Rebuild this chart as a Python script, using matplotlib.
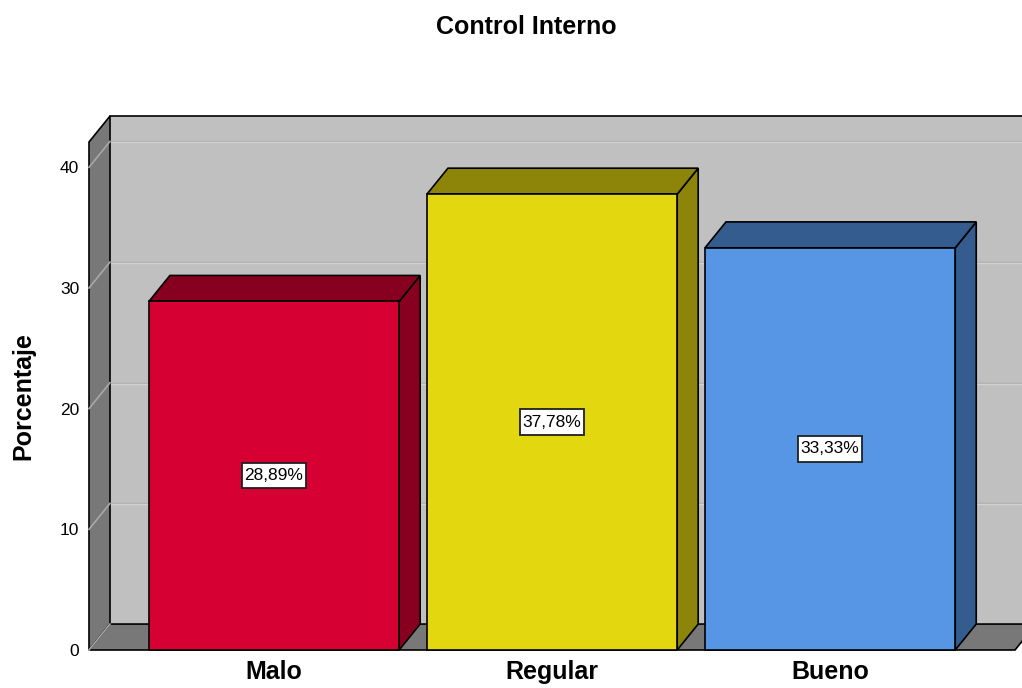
import matplotlib
matplotlib.use("Agg")
import matplotlib.pyplot as plt
from matplotlib.patches import Polygon, Rectangle
from matplotlib.path import Path

plt.rcParams['font.family'] = ['Liberation Sans', 'DejaVu Sans']

# Data
categories = ["Malo", "Regular", "Bueno"]
percentages = [28.89, 37.78, 33.33]
y_ticks = [0, 10, 20, 30, 40]

front_colors = ["#D60032", "#E3D70F", "#5696E5"]
shade_colors = ["#880020", "#8C850A", "#345C8E"]

WALL_BACK = "#C0C0C0"
WALL_SIDE = "#787878"
GRID_DARK = "#ACACAC"
GRID_LIGHT = "#D2D2D2"
GRID_SIDE = "#A8A8A8"


def label_box(x0, y0, width, height, mutation_size):
    """Rectangular box with more vertical than horizontal padding."""
    px = 0.16 * mutation_size
    py = 0.30 * mutation_size
    x0, y0 = x0 - px, y0 - py
    x1, y1 = x0 + width + 2 * px, y0 + height + 2 * py
    return Path([(x0, y0), (x1, y0), (x1, y1), (x0, y1), (x0, y0)], closed=True)


fig = plt.figure(figsize=(10.22, 6.88), dpi=100)
ax = fig.add_axes([89 / 1022, 38 / 688, 926 / 1022, 508 / 688])

xl, xr = -0.6655, 2.665
ytop = 42.1
ax.set_xlim(xl, xr)
ax.set_ylim(0, ytop)

# depth of the pseudo-3D box in data units
dx = 21 / 278.0
dy = 2.15
bar_w = 0.9
px_y = 1 / 12.07  # one pixel in y data units

# back wall
ax.add_patch(Polygon([(xl + dx, dy), (xr + dx, dy), (xr + dx, ytop + dy), (xl + dx, ytop + dy)],
                     closed=True, facecolor=WALL_BACK, edgecolor="none", clip_on=False, zorder=1))
ax.plot([xl + dx, xr + dx + 0.2], [ytop + dy, ytop + dy], color="black", lw=1.2, clip_on=False, zorder=2)

# left wall
ax.add_patch(Polygon([(xl, 0), (xl + dx, dy), (xl + dx, ytop + dy), (xl, ytop)],
                     closed=True, facecolor=WALL_SIDE, edgecolor="black", lw=1.2, clip_on=False, zorder=2))
# floor
ax.add_patch(Polygon([(xl, 0), (xr, 0), (xr + dx, dy), (xl + dx, dy)],
                     closed=True, facecolor=WALL_SIDE, edgecolor="black", lw=1.2, clip_on=False, zorder=2))

# gridlines on the back wall and left wall
for t in y_ticks:
    if t > 0:
        ax.plot([xl + dx, xr + dx + 0.2], [t + dy, t + dy], color=GRID_DARK, lw=1.0,
                clip_on=False, zorder=1.5)
        ax.plot([xl + dx, xr + dx + 0.2], [t + dy - px_y, t + dy - px_y], color=GRID_LIGHT, lw=1.0,
                clip_on=False, zorder=1.5)
    ax.plot([xl, xl + dx], [t, t + dy], color=GRID_SIDE, lw=1.2, clip_on=False, zorder=3)

# bars
for i, (v, fc, sc) in enumerate(zip(percentages, front_colors, shade_colors)):
    x0, x1 = i - bar_w / 2, i + bar_w / 2
    ax.add_patch(Polygon([(x1, 0), (x1 + dx, dy), (x1 + dx, v + dy), (x1, v)],
                         closed=True, facecolor=sc, edgecolor="black", lw=1.2, zorder=4, clip_on=False))
    ax.add_patch(Polygon([(x0, v), (x1, v), (x1 + dx, v + dy), (x0 + dx, v + dy)],
                         closed=True, facecolor=sc, edgecolor="black", lw=1.2, zorder=4, clip_on=False,
                         joinstyle="miter"))
    ax.add_patch(Rectangle((x0, 0), bar_w, v, facecolor=fc, edgecolor="black", lw=1.2, zorder=5,
                           clip_on=False))
    label = f"{v:.2f}".replace(".", ",") + "%"
    ax.text(i, v / 2, label, ha="center", va="center", fontsize=12.5, zorder=6,
            bbox=dict(boxstyle=label_box, facecolor="white", edgecolor="#202020", lw=1.3))

for s in ax.spines.values():
    s.set_visible(False)
ax.set_facecolor("none")

ax.set_yticks(y_ticks)
ax.set_yticklabels([str(t) for t in y_ticks], fontsize=12.5)
ax.set_xticks(range(len(categories)))
ax.set_xticklabels(categories, fontsize=18, fontweight="bold")
ax.tick_params(axis="y", length=0, pad=7)
ax.tick_params(axis="x", length=0, pad=7)
ax.set_ylabel("Porcentaje", fontsize=18, fontweight="bold", labelpad=18)

fig.text(526 / 1022, 1 - 27 / 688, "Control Interno", ha="center", va="center",
         fontsize=18, fontweight="bold")

fig.savefig("out.png", dpi=100)
